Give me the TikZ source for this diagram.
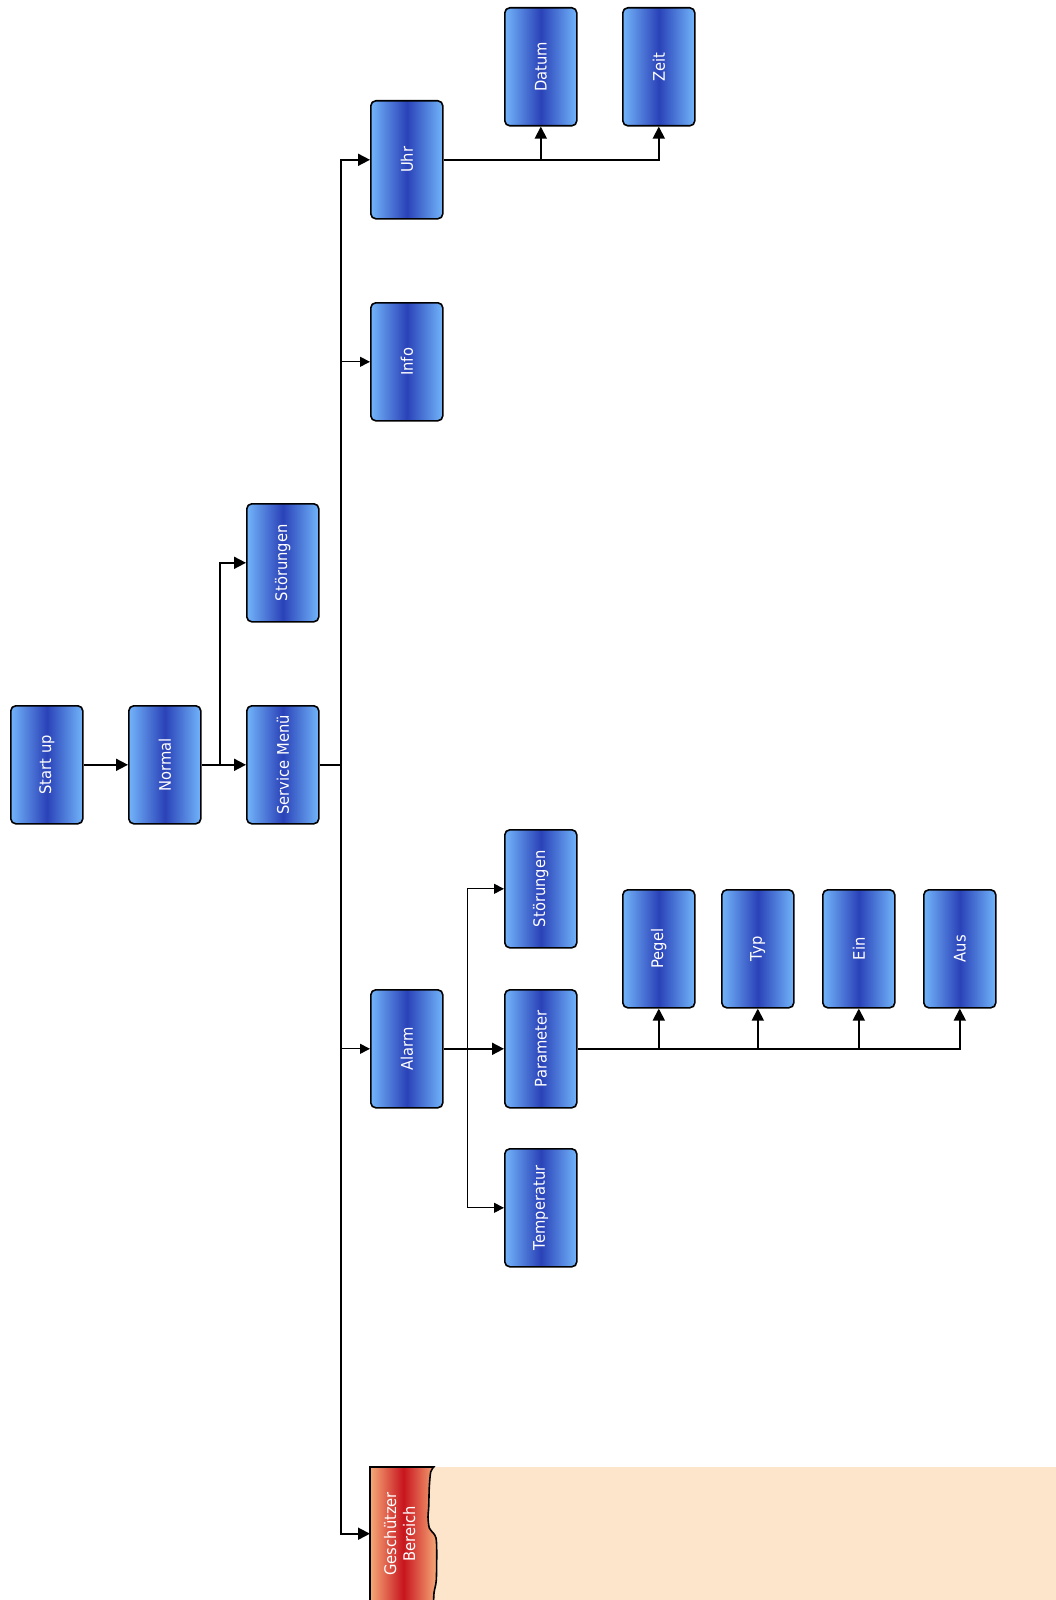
\documentclass[tikz,border=0pt]{standalone}
\usepackage{fontspec}
\usepackage{graphicx}
\newfontfamily\boxfont[FakeStretch=0.92]{DejaVu Sans}
\usetikzlibrary{arrows.meta,calc}
\definecolor{bLight}{HTML}{72B4FA}
\definecolor{bDark}{HTML}{2A42B8}
\definecolor{rLight}{HTML}{F6AA78}
\definecolor{rDark}{HTML}{C8141E}
\definecolor{beigeArea}{HTML}{FDE5CB}
\begin{document}
\begin{tikzpicture}[x=1pt,y=-1pt,
  box/.style={draw=black, line width=1.6pt, rounded corners=5pt,
    minimum width=72pt, minimum height=118pt, inner sep=0pt, anchor=north west,
    left color=bLight, right color=bLight, middle color=bDark,
    text=white, font=\boxfont\fontsize{16}{19}\selectfont},
  tlink/.style={line width=1.8pt, -{Triangle[length=12pt,width=12pt]}},
  nlink/.style={line width=0.9pt, -{Triangle[length=10pt,width=10pt]}},
  tline/.style={line width=1.8pt},
  lbl/.style={text=white, font=\boxfont\fontsize{16}{19}\selectfont}
]
\useasboundingbox (0,0) rectangle (1056,1600);
\fill[white] (0,0) rectangle (1056,1600);

% protected area
\fill[beigeArea] (426,1467) rectangle (1056,1600);
\path[draw=black, line width=1.6pt, left color=rLight, right color=rLight, middle color=rDark]
  (370,1612) -- (370,1467) -- (433.7,1467)
  -- plot[smooth] coordinates {(433.7,1467) (430.7,1472) (429.3,1487) (428.7,1507) (428,1517) (429.3,1528) (433.3,1533) (436,1538) (436.7,1550) (436.3,1580) (434,1593) (433.3,1612)};
\node[lbl, minimum width=63pt, minimum height=133pt, anchor=north west, inner sep=0pt] (gb) at (370,1467)
  {\rotatebox{90}{\begin{tabular}{@{}c@{}}Geschützer\\Bereich\end{tabular}}};

% boxes
\node[box] (start)   at (10,705)  {\rotatebox{90}{Start up}};
\node[box] (normal)  at (128,705) {\rotatebox{90}{Normal}};
\node[box] (service) at (246,705) {\rotatebox{90}{Service Menü}};
\node[box] (stoerA)  at (246,503) {\rotatebox{90}{Störungen}};
\node[box] (info)    at (370,302) {\rotatebox{90}{Info}};
\node[box] (uhr)     at (370,100) {\rotatebox{90}{Uhr}};
\node[box] (datum)   at (504,7)   {\rotatebox{90}{Datum}};
\node[box] (zeit)    at (622,7)   {\rotatebox{90}{Zeit}};
\node[box] (alarm)   at (370,989) {\rotatebox{90}{Alarm}};
\node[box] (stoerB)  at (504,829) {\rotatebox{90}{Störungen}};
\node[box] (param)   at (504,989) {\rotatebox{90}{Parameter}};
\node[box] (temp)    at (504,1148) {\rotatebox{90}{Temperatur}};
\node[box] (pegel)   at (622,889) {\rotatebox{90}{Pegel}};
\node[box] (typ)     at (721,889) {\rotatebox{90}{Typ}};
\node[box] (ein)     at (822,889) {\rotatebox{90}{Ein}};
\node[box] (aus)     at (923,889) {\rotatebox{90}{Aus}};

% coordinates
\coordinate (nb) at ($(normal.east)+(18,0)$);
\coordinate (sp) at ($(service.east)+(21,0)$);
\coordinate (ab) at ($(alarm.east)+(24,0)$);

% connectors
\draw[tlink] (start.east) -- (normal.west);
\draw[tlink] (normal.east) -- (service.west);
\draw[tlink] (nb) |- (stoerA.west);
\draw[tline] (service.east) -- (sp);
\draw[tlink] (sp) |- (uhr.west);
\draw[tlink] (sp) |- (gb.west);
\draw[nlink] (sp |- info.west) -- (info.west);
\draw[nlink] (sp |- alarm.west) -- (alarm.west);

\draw[tlink] (uhr.east) -| (zeit.south);
\draw[tlink] (datum.south |- uhr.east) -- (datum.south);

\draw[tlink] (alarm.east) -- (param.west);
\draw[nlink] (ab) |- (stoerB.west);
\draw[nlink] (ab) |- (temp.west);

\draw[tlink] (param.east) -| (aus.south);
\draw[tlink] (pegel.south |- param.east) -- (pegel.south);
\draw[tlink] (typ.south |- param.east) -- (typ.south);
\draw[tlink] (ein.south |- param.east) -- (ein.south);
\end{tikzpicture}
\end{document}
